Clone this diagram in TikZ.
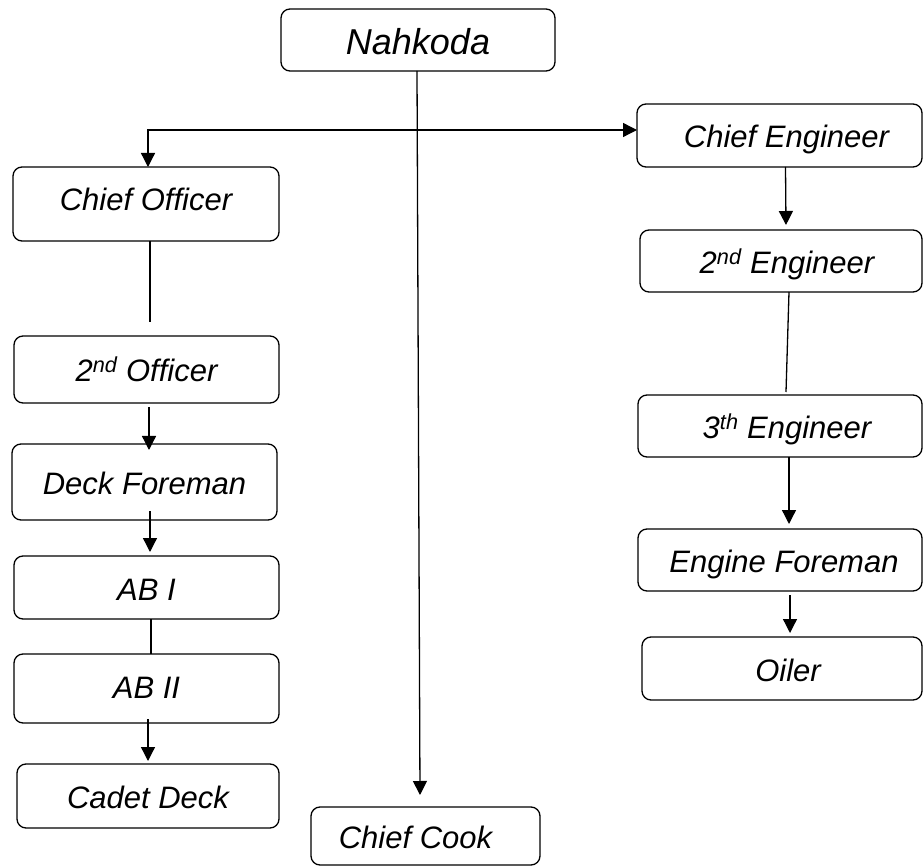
\documentclass[tikz,border=0pt]{standalone}
\usepackage{fontspec}
\setmainfont{Liberation Sans}
\usetikzlibrary{arrows.meta}
\begin{document}
\begin{tikzpicture}[x=1pt,y=-1pt,
  box/.style={draw, rounded corners=9pt, line width=1.3pt, inner sep=0pt, outer sep=0pt,
    font=\fontsize{31}{36}\selectfont\itshape, text height=30pt, text depth=5pt, align=center},
  con/.style={line width=1.3pt},
  arr/.style={line width=1.3pt, -{Triangle[width=14pt,length=14pt]}},
  darr/.style={line width=1.3pt, {Triangle[width=14pt,length=14pt]}-{Triangle[width=14pt,length=14pt]}}]
\useasboundingbox (0,0) rectangle (924,866);
% nodes
\node[box, minimum width=274pt, minimum height=62pt, font=\fontsize{36}{42}\selectfont\itshape, text height=34pt, text depth=4pt] (nk) at (418,40) {Nahkoda};
\node[box, minimum width=285pt, minimum height=63pt] (ce) at (779.5,135.5) {\hspace*{14pt}Chief Engineer};
\node[box, minimum width=266pt, minimum height=74pt, text height=24pt, text depth=10pt] (co) at (146,204) {Chief Officer};
\node[box, minimum width=282pt, minimum height=62pt] (e2) at (781,261) {\hspace*{12pt}2\textsuperscript{nd} Engineer};
\node[box, minimum width=265pt, minimum height=67pt] (o2) at (146.5,369.5) {2\textsuperscript{nd} Officer};
\node[box, minimum width=284pt, minimum height=62pt] (e3) at (780,426) {\hspace*{14pt}3\textsuperscript{th} Engineer};
\node[box, minimum width=265pt, minimum height=76pt] (df) at (144.5,482) {Deck Foreman};
\node[box, minimum width=284pt, minimum height=62pt] (ef) at (780,560) {\hspace*{8pt}Engine Foreman};
\node[box, minimum width=265pt, minimum height=63pt] (ab1) at (146.5,587.5) {AB I};
\node[box, minimum width=280pt, minimum height=63pt] (oil) at (782,668.5) {\hspace*{12pt}Oiler};
\node[box, minimum width=265pt, minimum height=69pt, text height=27pt, text depth=8pt] (ab2) at (146.5,688.5) {AB II};
\node[box, minimum width=262pt, minimum height=64pt] (cd) at (148,796) {Cadet Deck};
\node[box, minimum width=229pt, minimum height=58pt] (cc) at (425.5,836) {Chief Cook\hspace*{20pt}};
% connectors
\draw[arr] ([xshift=-1pt]nk.south) -- ([xshift=-5.5pt,yshift=12pt]cc.north);
\draw[darr] ([xshift=2pt]co.north) |- ([yshift=5.5pt]ce.west);
\draw[arr] ([xshift=6pt]ce.south) -- ([xshift=5pt,yshift=5pt]e2.north);
\draw[con] ([xshift=8pt]e2.south) -- ([xshift=6pt,yshift=3pt]e3.north);
\draw[arr] ([xshift=9pt]e3.south) -- ([xshift=9pt,yshift=5pt]ef.north);
\draw[arr] ([xshift=10pt,yshift=-4pt]ef.south) -- ([xshift=8pt,yshift=4pt]oil.north);
\draw[con] ([xshift=4pt]co.south) -- ([xshift=3.5pt,yshift=14pt]o2.north);
\draw[arr] ([xshift=2.5pt,yshift=-4pt]o2.south) -- ([xshift=4.5pt,yshift=-6pt]df.north);
\draw[arr] ([xshift=5.5pt,yshift=9pt]df.south) -- ([xshift=3.5pt,yshift=4pt]ab1.north);
\draw[con] ([xshift=4.5pt]ab1.south) -- ([xshift=4.5pt]ab2.north);
\draw[arr] ([xshift=1.5pt,yshift=4pt]ab2.south) -- ([yshift=3pt]cd.north);
\end{tikzpicture}
\end{document}
